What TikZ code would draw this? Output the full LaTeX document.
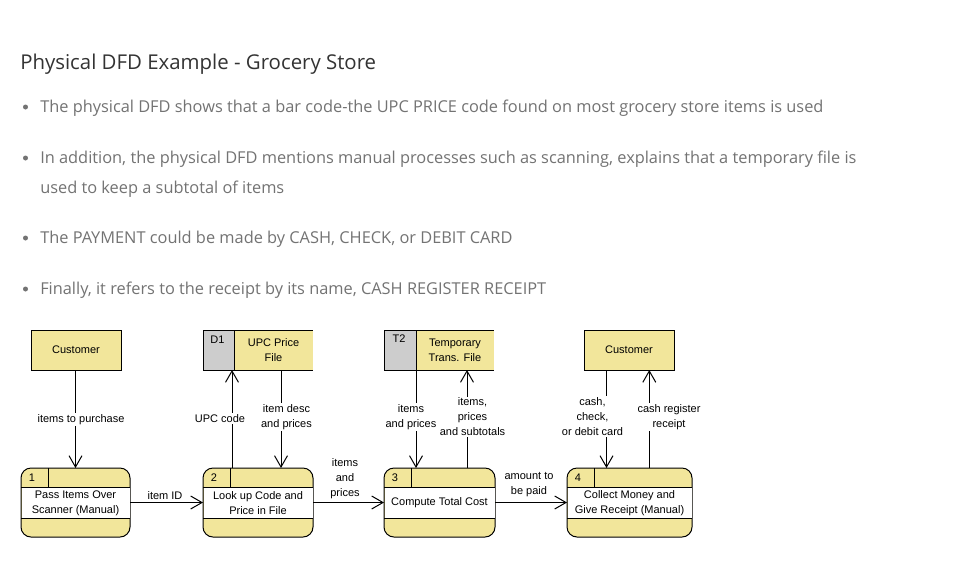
\documentclass[tikz,border=0pt]{standalone}
\usepackage{fontspec}
\setmainfont{Liberation Sans}
\newfontfamily\opensans{Open Sans}
\usetikzlibrary{arrows.meta,calc}
\definecolor{dfdyellow}{RGB}{242,230,155}
\definecolor{dfdgrey}{RGB}{205,205,205}
\definecolor{titlegray}{RGB}{51,51,51}
\definecolor{bodygray}{RGB}{115,115,115}
\tikzset{
  dfdfont/.style={font=\fontsize{8.25pt}{11.25pt}\selectfont},
  entity/.style={draw, line width=0.75pt, fill=dfdyellow, minimum width=90*0.75pt, minimum height=40*0.75pt, inner sep=0pt, outer sep=0pt, dfdfont},
  procbox/.style={draw, line width=0.75pt, fill=dfdyellow, rounded corners=7.5pt, minimum height=69*0.75pt, inner sep=0pt, outer sep=0pt},
  storebox/.style={fill=dfdyellow, minimum height=40*0.75pt, inner sep=0pt, outer sep=0pt, align=center, dfdfont},
  storeid/.style={fill=dfdgrey, draw, line width=0.75pt, minimum height=40*0.75pt, inner sep=0pt, outer sep=0pt},
  flow/.style={line width=0.75pt, -{Straight Barb[length=8.5pt,width=9.75pt,line width=0.75pt]}},
  flowlabel/.style={fill=white, inner sep=1pt, align=center, dfdfont},
  bullettext/.style={anchor=base west, inner sep=0pt, text=bodygray, font=\opensans\fontsize{12.27pt}{22.5pt}\selectfont},
  bulletdot/.style={circle, fill=bodygray, minimum size=5*0.75pt, inner sep=0pt},
}
\newcommand{\dfdprocess}[5]{%
  \node[procbox, minimum width=#3*0.75pt] (#1) at (#2,502.5) {};
  \fill[white] ($(#1.north west)+(0.5,19.5)$) rectangle ($(#1.south east)+(-0.5,-19)$);
  \draw[line width=0.75pt] ($(#1.north west)+(0,19.5)$) -- ($(#1.north east)+(0,19.5)$);
  \draw[line width=0.75pt] ($(#1.south west)+(0,-19)$) -- ($(#1.south east)+(0,-19)$);
  \draw[line width=0.75pt] ($(#1.north west)+(27,0)$) -- ($(#1.north west)+(27,19.5)$);
  \node[dfdfont, inner sep=0pt] (#1num) at ($(#1.north west)+(11,9.5)$) {#4};
  \node[dfdfont, align=center, inner sep=0pt] (#1txt) at ($(#1.north)+(0,35)$) {#5};
}
\begin{document}
\begin{tikzpicture}[x=0.75pt,y=-0.75pt]
\useasboundingbox[fill=white] (0,0) rectangle (969,565);

% header text
\node[anchor=base west, inner sep=0pt, text=titlegray, font=\opensans\fontsize{15.3pt}{18pt}\selectfont] (title) at (20,69) {Physical DFD Example - Grocery Store};

\node[bulletdot] (b1) at (25.5,107) {};
\node[bullettext] (t1) at (40,112) {The physical DFD shows that a bar code-the UPC PRICE code found on most grocery store items is used};
\node[bulletdot] (b2) at (25.5,158) {};
\node[bullettext] (t2) at (40,163) {In addition, the physical DFD mentions manual processes such as scanning, explains that a temporary file is};
\node[bullettext] (t2b) at (40,193) {used to keep a subtotal of items};
\node[bulletdot] (b3) at (25.5,238) {};
\node[bullettext] (t3) at (40,243) {The PAYMENT could be made by CASH, CHECK, or DEBIT CARD};
\node[bulletdot] (b4) at (25.5,289) {};
\node[bullettext] (t4) at (40,294) {Finally, it refers to the receipt by its name, CASH REGISTER RECEIPT};

% external entities
\node[entity] (c1) at (76,350) {Customer};
\node[entity] (c2) at (629,350) {Customer};

% data stores
\node[storebox, minimum width=79*0.75pt] (d1) at (273.5,350) {UPC Price\\File};
\draw[line width=0.75pt] (d1.north west) -- (d1.north east);
\draw[line width=0.75pt] (d1.south west) -- (d1.south east);
\node[storeid, minimum width=31*0.75pt] (d1g) at (218.5,350) {};
\node[dfdfont, inner sep=0pt] (d1id) at ($(d1g.north)+(-1,10)$) {D1};

\node[storebox, minimum width=78*0.75pt] (t2s) at (455,350) {Temporary\\Trans. File};
\draw[line width=0.75pt] (t2s.north west) -- (t2s.north east);
\draw[line width=0.75pt] (t2s.south west) -- (t2s.south east);
\node[storeid, minimum width=32*0.75pt] (t2g) at (400,350) {};
\node[dfdfont, inner sep=0pt] (t2id) at ($(t2g.north)+(-1,9)$) {T2};

% processes
\dfdprocess{p1}{75.5}{109}{1}{Pass Items Over\\Scanner (Manual)}
\dfdprocess{p2}{258}{110}{2}{Look up Code and\\Price in File}
\dfdprocess{p3}{439.5}{111}{3}{Compute Total Cost}
\dfdprocess{p4}{629.5}{125}{4}{Collect Money and\\Give Receipt (Manual)}

% attachment points on process tops
\coordinate (p2a) at ($(p2.north west)+(29,0)$);
\coordinate (p2b) at ($(p2.north west)+(78,0)$);
\coordinate (p3a) at ($(p3.north west)+(32,0)$);
\coordinate (p3b) at ($(p3.north west)+(83,0)$);
\coordinate (p4a) at ($(p4.north west)+(39.5,0)$);
\coordinate (p4b) at ($(p4.north west)+(82.3,0)$);

% flows
\draw[flow] (c1.south -| p1.north) -- (p1.north);
\node[flowlabel] (l1) at (81,419.5) {items to purchase};

\draw[flow] (p2a) -- (p2a |- d1g.south);
\node[flowlabel] (l2) at (220,418.5) {UPC code};

\draw[flow] (p2b |- d1.south) -- (p2b);
\node[flowlabel] (l3) at (286.5,417) {item desc\\and prices};

\draw[flow] (p1.east) -- (p2.west);
\node[dfdfont, inner sep=0pt] (l4) at (165,495.5) {item ID};

\draw[flow] (p2.east) -- (p3.west);
\node[dfdfont, inner sep=0pt, align=center] (l5) at (345,478.5) {items\\and\\prices};

\draw[flow] (p3.east) -- (p4.west);
\node[dfdfont, inner sep=0pt, align=center] (l6) at (529,485) {amount to\\be paid};

\draw[flow] (p3a |- t2g.south) -- (p3a);
\node[flowlabel] (l7) at (411,417) {items\\and prices};

\draw[flow] (p3b) -- (p3b |- t2s.south);
\node[flowlabel] (l8) at (472.5,417) {items,\\prices\\and subtotals};

\draw[flow] (p4a |- c2.south) -- (p4a);
\node[flowlabel] (l9) at (592.5,416.5) {cash,\\check,\\or debit card};

\draw[flow] (p4b) -- (p4b |- c2.south);
\node[flowlabel] (l10) at (669,417) {cash register\\receipt};
\end{tikzpicture}
\end{document}
